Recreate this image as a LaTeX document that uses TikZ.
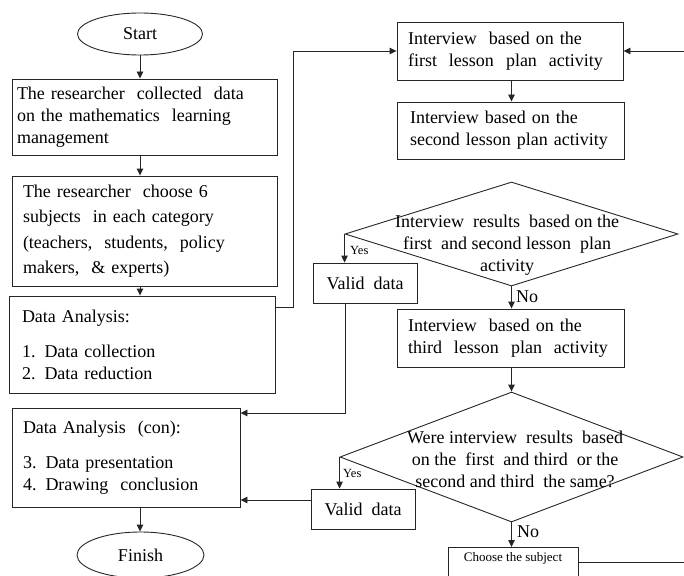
\documentclass[tikz,border=0pt]{standalone}
\usepackage{fontspec}
\setmainfont{Liberation Serif}
\usetikzlibrary{shapes.geometric,arrows.meta,calc}
\begin{document}
\begin{tikzpicture}[x=1pt,y=-1pt,
  every node/.style={font=\fontsize{18}{22}\selectfont},
  ln/.style={line width=0.9pt, draw=black!85},
  arr/.style={ln,-{Triangle[length=7pt,width=6.5pt]}},
  box/.style={draw=black!85, line width=0.9pt, rectangle, align=left, inner ysep=0pt},
  term/.style={draw=black!85, line width=0.9pt, ellipse, inner sep=0pt},
  dia/.style={draw=black!85, line width=0.9pt, diamond, inner sep=0pt},
  small/.style={font=\fontsize{12.5}{14}\selectfont, inner sep=0pt},
  lbl/.style={inner sep=0pt},
]
\clip (0,0) rectangle (684,575);

% left column
\node[term, minimum width=125pt, minimum height=42pt] (start) at (140,34) {Start};
\node[box, minimum height=76pt, inner xsep=5pt, text width=255pt] (b1) at (144.5,117)
  {The researcher\ \ collected\ \ data\\on the mathematics\ \ learning\\management};
\node[box, minimum height=110pt, inner xsep=11pt, text width=243pt, font=\fontsize{18}{25.5}\selectfont] (b2) at (144.5,231)
  {The researcher\ \ choose 6\\subjects\ \ in each category\\(teachers,\ \ students,\ \ policy\\makers,\ \ \& experts)};
\node[box, minimum height=97pt, inner xsep=13pt, text width=240pt] (b3) at (142,344.5)
  {Data Analysis:\\[13pt]1.\enspace Data collection\\2.\enspace Data reduction};
\node[box, minimum height=99pt, inner xsep=11pt, text width=206pt] (con) at (126,457.5)
  {Data Analysis\ \ (con):\\[13pt]3.\enspace Data presentation\\4.\enspace Drawing\ \ conclusion};
\node[term, minimum width=127pt, minimum height=46pt] (fin) at (140.5,555) {Finish};

% right column
\node[box, minimum height=58pt, inner xsep=11pt, text width=204pt] (i1) at (510,51)
  {Interview\ \ based on the\\first\ \ lesson\ \ plan\ \ activity};
\node[box, minimum height=57pt, inner xsep=13pt, text width=201pt] (i2) at (510.5,130.5)
  {Interview based on the\\second lesson plan activity};
\node[dia, minimum width=333pt, minimum height=104pt] (d1) at (511.5,234) {};
\node[lbl, align=center] (t1) at (507,245)
  {Interview\ \ results\ \ based on the\\first\ \ and second lesson\ \ plan\\activity};
\node[box, minimum width=104pt, minimum height=40pt, inner xsep=0pt, align=center] (v1) at (365,283) {Valid\ \ data};
\node[small, anchor=west] (y1) at (350,250) {Yes};
\node[lbl, anchor=west] (n1) at (516,297) {No};
\node[box, minimum height=58pt, inner xsep=11pt, text width=205pt] (i3) at (510.5,338)
  {Interview\ \ based on the\\third\ \ lesson\ \ plan\ \ activity};
\node[dia, minimum width=343pt, minimum height=130pt] (d2) at (511.5,457) {};
\node[lbl, align=center] (t2) at (515,459)
  {Were interview\ \ results\ \ based\\on the\ \ first\ \ and third\ \ or the\\second and third\ \ the same?};
\node[box, minimum width=104pt, minimum height=40pt, inner xsep=0pt, align=center] (v2) at (363,509) {Valid\ \ data};
\node[small, anchor=west] (y2) at (343,473) {Yes};
\node[lbl, anchor=west] (n2) at (517,532) {No};
\node[box, anchor=north, minimum width=130pt, font=\fontsize{13}{15}\selectfont, inner ysep=5pt, text depth=40pt, align=center] (ch) at (513,547) {Choose the subject};

\coordinate (c1) at (293,307);
\coordinate (e1) at (684,51);
\coordinate (e2) at (684,562);
\coordinate (c2) at (345,413);
\coordinate (c3) at (311,500);

% connectors
\draw[arr] (start.south) -- (start.south |- b1.north);
\draw[arr] (start.south |- b1.south) -- (start.south |- b2.north);
\draw[arr] (start.south |- b2.south) -- (start.south |- b3.north);
\draw[arr] (b3.east |- c1) -- (c1) |- (i1.west);
\draw[arr] (e1) -- (i1.east);
\draw[arr] (d1.north |- i1.south) -- (d1.north |- i2.north);
\draw[arr] (d1.west) -- (d1.west |- v1.north);
\draw[arr] (d1.south) -- (d1.south |- i3.north);
\draw[arr] (v1.south -| c2) -- (c2) -- (con.east |- c2);
\draw[arr] (d2.north |- i3.south) -- (d2.north);
\draw[arr] (d2.west) -- (d2.west |- v2.north);
\draw[arr] (c3) -- (con.east |- c3);
\draw[arr] (d2.south) -- (d2.south |- ch.north);
\draw[ln] ($(ch.north east)+(0,15)$) -- (e2);
\draw[arr] (start.south |- con.south) -- (start.south |- fin.north);
\end{tikzpicture}
\end{document}
